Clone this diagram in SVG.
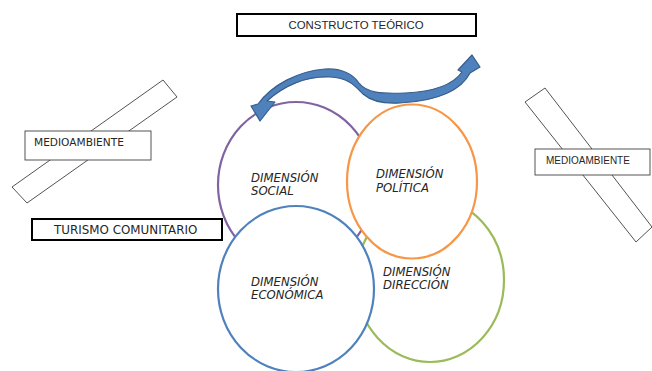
<svg xmlns="http://www.w3.org/2000/svg" width="652" height="371" viewBox="0 0 652 371">
<style>
.circ{fill:#fff;stroke-width:2.2}
.dim{font-family:"DejaVu Sans",Verdana,sans-serif;font-style:italic;font-size:11.7px;fill:#262626}
.diag{fill:#fff;stroke:#404040;stroke-width:0.9}
</style>
<rect width="652" height="371" fill="#fff"/>
<g id="medio-left-band"><polygon class="diag" points="163,80 177,97 27,203 12,187"/></g>
<g id="medio-right-band"><polygon class="diag" points="545,88 652,227 636,242 525,102"/></g>
<g id="social"><ellipse class="circ" cx="296" cy="185" rx="78" ry="83" stroke="#8064A2"/>
<text class="dim" x="251" y="182">DIMENSIÓN</text><text class="dim" x="251" y="195">SOCIAL</text></g>
<g id="direccion"><ellipse class="circ" cx="430" cy="280" rx="74" ry="82" stroke="#9BBB59"/>
<text class="dim" x="383" y="276">DIMENSIÓN</text><text class="dim" x="383" y="289">DIRECCIÓN</text></g>
<g id="politica"><ellipse class="circ" cx="412" cy="181.5" rx="65" ry="77" stroke="#F79646"/>
<text class="dim" x="376" y="178">DIMENSIÓN</text><text class="dim" x="376" y="192">POLÍTICA</text></g>
<g id="economica"><ellipse class="circ" cx="296" cy="289" rx="78" ry="83" stroke="#4F81BD"/>
<text class="dim" x="251" y="286">DIMENSIÓN</text><text class="dim" x="251" y="299">ECONÓMICA</text></g>
<g id="constructo"><rect x="237" y="14" width="239" height="22" fill="#fff" stroke="#000" stroke-width="2"/>
<text x="356" y="29" text-anchor="middle" font-family="Liberation Sans,Arial,sans-serif" font-size="11.4" fill="#262626">CONSTRUCTO TEÓRICO</text></g>
<g id="turismo"><rect x="32" y="219" width="190" height="21" fill="#fff" stroke="#000" stroke-width="2"/>
<text x="54" y="234" font-family="DejaVu Sans,Verdana,sans-serif" font-size="11.9" fill="#262626">TURISMO COMUNITARIO</text></g>
<g id="medio-left"><rect x="25" y="131" width="126" height="29" fill="#fff" stroke="#404040" stroke-width="0.9"/>
<text x="34" y="146" font-family="DejaVu Sans,Verdana,sans-serif" font-size="10.6" fill="#262626">MEDIOAMBIENTE</text></g>
<g id="medio-right"><rect x="535" y="149" width="115" height="26" fill="#fff" stroke="#404040" stroke-width="0.9"/>
<text x="546" y="164" font-family="Liberation Sans,Arial,sans-serif" font-size="10" fill="#262626">MEDIOAMBIENTE</text></g>
<g id="connectors">
<path d="M258,104 C272,85 298,71 325,69 C341,68 353,74 359,83 C367,93 381,94 405,93 C430,92 452,86 462,72 L458,70 L472,55 L480,67 L470,73 C462,89 440,101 400,103 C384,104 371,101 363,94 C355,86 349,78 330,77 C306,76 284,86 267,101 L275,102 L260,121 L251,106 Z" fill="#4F81BD" stroke="#385D8A" stroke-width="1.2" stroke-linejoin="round"/>
</g>
</svg>
